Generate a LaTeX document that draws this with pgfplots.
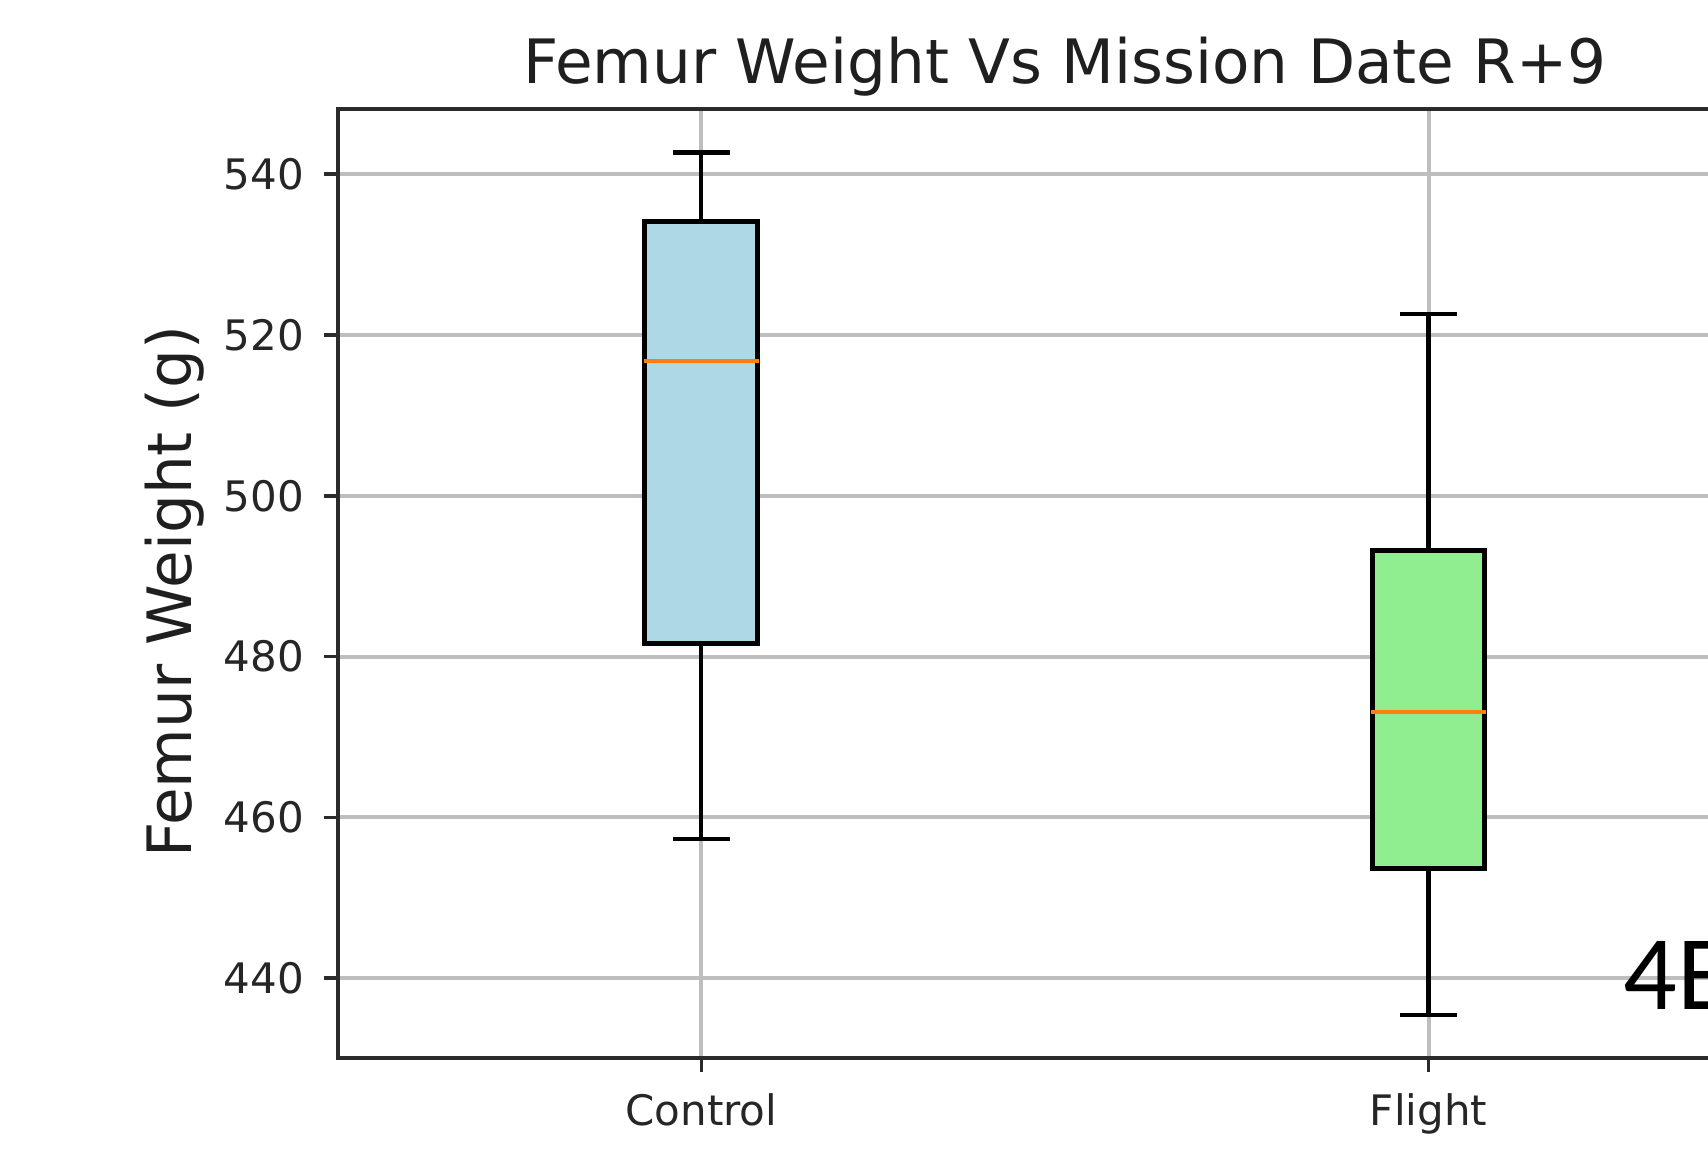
\documentclass[border=0pt]{standalone}
\usepackage{pgfplots}
\pgfplotsset{compat=1.18}
\usepackage{fontspec}
\setmainfont{DejaVu Sans}
\newfontfamily\carlito{Carlito}
\definecolor{boxblue}{HTML}{ADD8E6}
\definecolor{boxgreen}{HTML}{90EE90}
\definecolor{medorange}{HTML}{FF7F0E}
\definecolor{gridgray}{HTML}{BEBEBE}
\definecolor{spine}{HTML}{2B2B2B}
\begin{document}
\begin{tikzpicture}
\useasboundingbox (-84.43pt,-24.3pt) rectangle (342.57pt,264.45pt);
\clip (-84.43pt,-24.3pt) rectangle (342.57pt,264.45pt);
\begin{axis}[
  at={(0pt,0pt)}, anchor=south west,
  scale only axis, width=363.6pt, height=237.2pt,
  xmin=0.5, xmax=2.5, ymin=430.1, ymax=548.1,
  xtick={1,2}, xticklabels={Control,Flight},
  ytick={440,460,480,500,520,540},
  grid=major, major grid style={draw=gridgray, line width=1pt},
  axis line style={draw=spine, line width=0.95pt},
  tick style={draw=spine, line width=0.9pt},
  major tick length=3.5pt, tick align=outside, tick pos=left,
  /pgf/number format/assume math mode=true,
  tick label style={font=\fontsize{10.5}{12}\selectfont, text=black!85, inner sep=0pt},
  yticklabel style={anchor=east},
  yticklabel shift=4.7pt,
  xticklabel style={anchor=base},
  xticklabel shift=13.3pt,
  title={Femur Weight Vs Mission Date R+9},
  title style={font=\fontsize{15.3}{18}\selectfont, text=black!88, at={(axis description cs:0.5,1)}, anchor=base, yshift=0.4pt, inner sep=0pt},
  ylabel={Femur Weight (g)},
  every axis y label/.style={at={(axis description cs:-0.1006,0.491)}, rotate=90, anchor=base, font=\fontsize{15.3}{18}\selectfont, text=black!88, inner sep=0pt},
]
% Control: whiskers 457.3 / 542.7, quartiles 481.6 / 534.1, median 516.8
\addplot[black, line width=1.05pt] coordinates {(1,534.1) (1,542.7)};
\addplot[black, line width=1.05pt] coordinates {(1,457.3) (1,481.6)};
\addplot[black, line width=1.05pt] coordinates {(0.961,542.7) (1.039,542.7)};
\addplot[black, line width=1.05pt] coordinates {(0.961,457.3) (1.039,457.3)};
\addplot[draw=black, line width=1.25pt, fill=boxblue] coordinates {(0.9225,481.6) (1.0775,481.6) (1.0775,534.1) (0.9225,534.1)} --cycle;
\addplot[medorange, line width=1.05pt] coordinates {(0.9209,516.8) (1.0791,516.8)};
% Flight: whiskers 435.4 / 522.6, quartiles 453.7 / 493.2, median 473.1
\addplot[black, line width=1.05pt] coordinates {(2,493.2) (2,522.6)};
\addplot[black, line width=1.05pt] coordinates {(2,435.4) (2,453.7)};
\addplot[black, line width=1.05pt] coordinates {(1.961,522.6) (2.039,522.6)};
\addplot[black, line width=1.05pt] coordinates {(1.961,435.4) (2.039,435.4)};
\addplot[draw=black, line width=1.25pt, fill=boxgreen] coordinates {(1.9225,453.7) (2.0775,453.7) (2.0775,493.2) (1.9225,493.2)} --cycle;
\addplot[medorange, line width=1.05pt] coordinates {(1.9209,473.1) (2.0791,473.1)};
\end{axis}
\node[anchor=base west, inner sep=0pt, font=\carlito\fontsize{26.5}{30}\selectfont] at (321.3pt,12.2pt) {4E};
\end{tikzpicture}
\end{document}
